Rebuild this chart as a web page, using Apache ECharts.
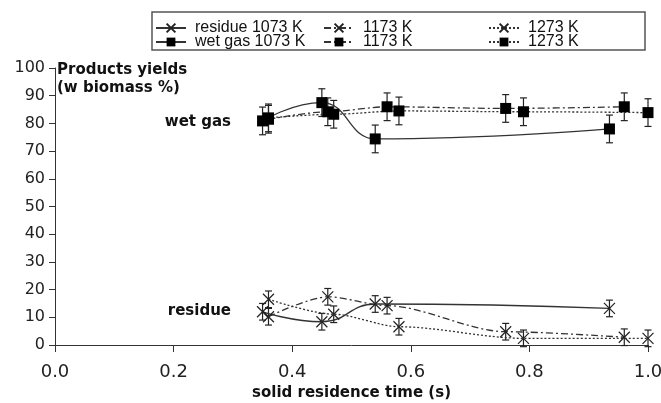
<!DOCTYPE html>
<html><head><meta charset="utf-8">
<script src="https://cdn.jsdelivr.net/npm/echarts@6/dist/echarts.min.js"></script>
<style>html,body{margin:0;padding:0;background:#fff}#c{width:661px;height:403px}</style>
</head><body><div id="c"></div>
<script>
// ---- data ----
const residueTime1073 = [0.35, 0.45, 0.54, 0.935];
const residue1073     = [12.0, 8.4, 14.8, 13.2];
const residueTime1173 = [0.36, 0.46, 0.56, 0.76, 0.96];
const residue1173     = [10.2, 17.4, 14.2, 4.8, 2.8];
const residueTime1273 = [0.36, 0.47, 0.58, 0.79, 1.0];
const residue1273     = [16.5, 11.1, 6.6, 2.4, 2.4];
const gasTime1073 = [0.35, 0.45, 0.54, 0.935];
const gas1073     = [80.9, 87.5, 74.4, 78.0];
const gasTime1173 = [0.36, 0.46, 0.56, 0.76, 0.96];
const gas1173     = [81.5, 84.2, 86.0, 85.4, 86.0];
const gasTime1273 = [0.36, 0.47, 0.58, 0.79, 1.0];
const gas1273     = [82.0, 83.3, 84.5, 84.2, 83.9];
const residueError = 3;
const gasError = 5;
const seriesNames = ['residue 1073 K', '1173 K', '1273 K', 'wet gas 1073 K', '1173 K\u200b', '1273 K\u200b'];

const INK = '#333';
const crossPath = 'path://M0,0L10,10M0,10L10,0';
const dashDot = [7, 3, 2, 3];
const dotted = [2, 2];
function pairs(xs, ys) { return xs.map((x, i) => [x, ys[i]]); }
function errData(xs, ys, e) { return xs.map((x, i) => [x, ys[i], e]); }

function lineSeries(name, xs, ys, isGas, type, smooth) {
  return {
    type: 'line', name, data: pairs(xs, ys), smooth, smoothMonotone: 'x', z: 3,
    symbol: isGas ? 'rect' : crossPath,
    symbolSize: 11,
    lineStyle: { color: INK, width: 1.3, type },
    itemStyle: isGas ? { color: '#000', borderWidth: 0 } : { color: 'rgba(0,0,0,0)', borderColor: '#222', borderWidth: 1.2 },
    emphasis: { disabled: true }
  };
}
function errSeries(xs, ys, e) {
  return {
    type: 'custom', data: errData(xs, ys, e), z: 2, silent: true,
    renderItem: function (params, api) {
      const x = api.value(0), y = api.value(1), er = api.value(2);
      const top = api.coord([x, y + er]), bot = api.coord([x, y - er]);
      const w = 3.5;
      const st = { stroke: '#222', lineWidth: 1.2 };
      return { type: 'group', children: [
        { type: 'line', shape: { x1: top[0], y1: top[1], x2: bot[0], y2: bot[1] }, style: st },
        { type: 'line', shape: { x1: top[0] - w, y1: top[1], x2: top[0] + w, y2: top[1] }, style: st },
        { type: 'line', shape: { x1: bot[0] - w, y1: bot[1], x2: bot[0] + w, y2: bot[1] }, style: st }
      ]};
    }
  };
}
function legendAt(name, left, top) {
  return {
    data: [name], left, top, padding: 0, itemWidth: 30, itemHeight: 11, selectedMode: false,
    textStyle: { fontFamily: 'Liberation Sans', fontSize: 16, color: '#111', padding: [0, 0, 0, 4] }
  };
}
const font = 'DejaVu Sans';
const option = {
  animation: false,
  backgroundColor: '#fff',
  grid: { left: 55, right: 13, top: 68, bottom: 58, containLabel: false, outerBoundsMode: 'none' },
  xAxis: {
    type: 'value', min: 0, max: 1, interval: 0.2,
    axisLine: { lineStyle: { color: INK, width: 1 } },
    axisTick: { inside: false, length: 7, lineStyle: { color: INK } },
    splitLine: { show: false },
    axisLabel: { fontFamily: font, fontSize: 18, color: '#222', margin: 18, formatter: v => v.toFixed(1) },
    name: 'solid residence time (s)', nameLocation: 'middle', nameGap: 40,
    nameTextStyle: { fontFamily: font, fontWeight: 'bold', fontSize: 15, color: '#111' }
  },
  yAxis: {
    type: 'value', min: 0, max: 100, interval: 10,
    axisLine: { show: true, lineStyle: { color: INK, width: 1 } },
    axisTick: { show: true, inside: false, length: 6, lineStyle: { color: INK } },
    splitLine: { show: false },
    axisLabel: { fontFamily: font, fontSize: 16, color: '#222', margin: 10 }
  },
  legend: [
    legendAt(seriesNames[0], 155, 20), legendAt(seriesNames[1], 323, 20), legendAt(seriesNames[2], 488, 20),
    legendAt(seriesNames[3], 155, 34), legendAt(seriesNames[4], 323, 34), legendAt(seriesNames[5], 488, 34)
  ],
  graphic: [
    { type: 'rect', shape: { x: 152, y: 12, width: 493, height: 38 }, style: { fill: 'none', stroke: '#555', lineWidth: 1.5 }, silent: true },
    { type: 'text', x: 57, y: 70, style: { text: 'Products yields', font: 'bold 15px "DejaVu Sans"', fill: '#111', verticalAlign: 'middle' } },
    { type: 'text', x: 57, y: 88, style: { text: '(w biomass %)', font: 'bold 15px "DejaVu Sans"', fill: '#111', verticalAlign: 'middle' } },
    { type: 'text', x: 231, y: 122, style: { text: 'wet gas', font: 'bold 15px "DejaVu Sans"', fill: '#111', align: 'right', verticalAlign: 'middle' } },
    { type: 'text', x: 231, y: 311, style: { text: 'residue', font: 'bold 15px "DejaVu Sans"', fill: '#111', align: 'right', verticalAlign: 'middle' } }
  ],
  series: [
    lineSeries(seriesNames[0], residueTime1073, residue1073, false, 'solid', 0.5),
    lineSeries(seriesNames[1], residueTime1173, residue1173, false, dashDot, 0.3),
    lineSeries(seriesNames[2], residueTime1273, residue1273, false, dotted, 0.3),
    lineSeries(seriesNames[3], gasTime1073, gas1073, true, 'solid', 0.5),
    lineSeries(seriesNames[4], gasTime1173, gas1173, true, dashDot, 0.3),
    lineSeries(seriesNames[5], gasTime1273, gas1273, true, dotted, 0.3),
    errSeries(residueTime1073, residue1073, residueError),
    errSeries(residueTime1173, residue1173, residueError),
    errSeries(residueTime1273, residue1273, residueError),
    errSeries(gasTime1073, gas1073, gasError),
    errSeries(gasTime1173, gas1173, gasError),
    errSeries(gasTime1273, gas1273, gasError)
  ]
};
const chart = echarts.init(document.getElementById('c'), null, { renderer: 'canvas' });
chart.setOption(option);
</script>
</body></html>
